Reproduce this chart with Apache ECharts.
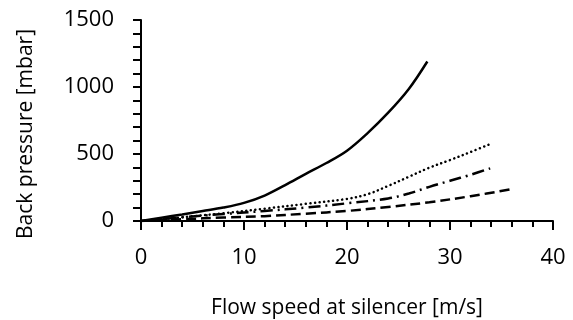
<!DOCTYPE html>
<html>
<head>
<meta charset="utf-8">
<script src="https://cdn.jsdelivr.net/npm/echarts@6/dist/echarts.min.js"></script>
<style>
html,body{margin:0;padding:0;background:#fff;}
#chart{width:573px;height:320px;}
</style>
</head>
<body>
<div id="chart"></div>
<script>
// Series A (solid)
const speedA = [0, 2, 4, 6, 8, 10, 12, 14, 16, 18, 20, 22, 24, 26, 27.8];
const pressA = [0, 25, 49, 74, 100, 135, 190, 268, 352, 433, 525, 656, 808, 985, 1190];
// Series B (dotted)
const speedB = [0, 4, 8, 12, 16, 20, 22, 24, 26, 28, 30, 32, 33.9];
const pressB = [0, 28, 58, 92, 128, 165, 200, 262, 330, 398, 455, 515, 574];
// Series C (dash-dot)
const speedC = [0, 4, 8, 12, 16, 20, 24, 26, 28, 30, 32, 33.9];
const pressC = [0, 28, 52, 75, 100, 132, 168, 205, 255, 300, 345, 393];
// Series D (dashed)
const speedD = [0, 4, 8, 12, 16, 20, 24, 28, 32, 36];
const pressD = [0, 13, 26, 36, 55, 75, 105, 140, 185, 238];

const xTicks = [0, 10, 20, 30, 40];
const yTicks = [0, 500, 1000, 1500];

const zip = (xs, ys) => xs.map((x, i) => [x, ys[i]]);
const FONT = 'Open Sans';

const mk = (name, xs, ys, type, cap) => ({
  name: name,
  type: 'line',
  data: zip(xs, ys),
  showSymbol: false,
  symbol: 'none',
  smooth: 0.35,
  lineStyle: { color: '#000', width: 2.5, type: type, cap: cap || 'butt' },
  z: 3
});

const chart = echarts.init(document.getElementById('chart'), null, { renderer: 'canvas' });
chart.setOption({
  animation: false,
  backgroundColor: '#fff',
  grid: { left: 141, right: 20, top: 20, bottom: 99, containLabel: false, outerBoundsMode: 'none' },
  xAxis: {
    type: 'value',
    min: xTicks[0], max: xTicks[xTicks.length - 1], interval: 10,
    name: 'Flow speed at silencer [m/s]',
    nameLocation: 'middle',
    nameGap: 77,
    nameTextStyle: { fontFamily: FONT, fontSize: 21, color: '#000' },
    axisLine: { show: true, onZero: false, lineStyle: { color: '#000', width: 2 } },
    axisTick: { show: true, inside: false, length: 9, lineStyle: { color: '#000', width: 2 } },
    minorTick: { show: true, splitNumber: 5, length: 6, lineStyle: { color: '#000', width: 2 } },
    splitLine: { show: false },
    axisLabel: { margin: 26, fontFamily: FONT, fontSize: 22, color: '#000',
      formatter: v => String(v) }
  },
  yAxis: {
    type: 'value',
    min: yTicks[0], max: yTicks[yTicks.length - 1], interval: 500,
    name: 'Back pressure [mbar]',
    nameLocation: 'middle',
    nameGap: 104,
    nameTextStyle: { fontFamily: FONT, fontSize: 21, color: '#000', padding: [0, 27, 0, 0] },
    axisLine: { show: true, lineStyle: { color: '#000', width: 2 } },
    axisTick: { show: true, inside: false, length: 8, lineStyle: { color: '#000', width: 2 } },
    minorTick: { show: true, splitNumber: 5, length: 8, lineStyle: { color: '#000', width: 2 } },
    splitLine: { show: false },
    axisLabel: { margin: 27, fontFamily: FONT, fontSize: 22, color: '#000',
      formatter: v => String(v) }
  },
  series: [
    mk('A', speedA, pressA, 'solid'),
    mk('B', speedB, pressB, [0.1, 4.5], 'round'),
    mk('C', speedC, pressC, [12, 5, 2, 5]),
    mk('D', speedD, pressD, [10, 5])
  ]
});
</script>
</body>
</html>
